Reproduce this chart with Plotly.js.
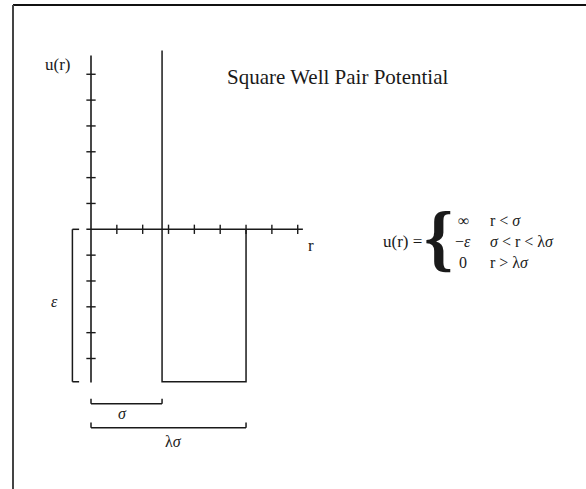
<!DOCTYPE html>
<html>
<head>
<meta charset="utf-8">
<script src="https://cdn.plot.ly/plotly-3.0.1.min.js"></script>
<style>html,body{margin:0;padding:0;background:#fff;}#chart{width:586px;height:489px;}</style>
</head>
<body>
<div id="chart"></div>
<script>
// ---- data (in axis tick units) ----
const xTicks = [1, 2, 3, 4, 5, 6, 7, 8];
const yTicks = [-5, -4, -3, -2, -1, 1, 2, 3, 4, 5, 6];
const sigma = 2.75;          // hard-core diameter
const lambdaSigma = 6.0;     // well range
const epsilon = 5.9;         // well depth
const wallTop = 6.92;        // "infinite" wall drawn up to here
const xAxisEnd = 8.2;
const yAxisTop = 6.73;
const rPotential = [sigma, sigma, lambdaSigma, lambdaSigma];
const uPotential = [wallTop, -epsilon, -epsilon, 0];
const titleText = 'Square Well Pair Potential';
const eqRows = [['∞', 'r &lt; <i>σ</i>'], ['−<i>ε</i>', '<i>σ</i> &lt; r &lt; λ<i>σ</i>'], ['0', 'r &gt; λ<i>σ</i>']];

// ---- geometry helpers ----
const PX = 25.84;            // pixels per unit
const x0px = 91, y0px = 229.3;
const W = 586, H = 489;
const tick = 0.18;
const ink = '#1a1a1a';
const serif = 'Liberation Serif, Times New Roman, serif';

function segs(list) { // list of [[x1,y1],[x2,y2]] -> arrays with null gaps
  const xs = [], ys = [];
  list.forEach(s => { xs.push(s[0][0], s[1][0], null); ys.push(s[0][1], s[1][1], null); });
  return {x: xs, y: ys};
}

const axes = segs([
  [[-tick, 0], [xAxisEnd, 0]],
  [[0, yAxisTop], [0, -epsilon - 0.03]]
]);
const ticks = segs(
  xTicks.map(t => [[t, -tick], [t, tick]]).concat(
  yTicks.map(t => [[-tick, t], [tick, t]]))
);
const brackets = segs([
  // epsilon bracket
  [[-0.46, 0], [-0.72, 0]], [[-0.72, 0], [-0.72, -epsilon]], [[-0.72, -epsilon], [-0.46, -epsilon]],
  // sigma bracket
  [[0, -6.56], [0, -6.75]], [[0, -6.75], [sigma, -6.75]], [[sigma, -6.75], [sigma, -6.56]],
  // lambda sigma bracket
  [[0, -7.48], [0, -7.68]], [[0, -7.68], [lambdaSigma, -7.68]], [[lambdaSigma, -7.68], [lambdaSigma, -7.48]]
]);

const traces = [
  {x: axes.x, y: axes.y, mode: 'lines', line: {color: ink, width: 1.6}, hoverinfo: 'skip'},
  {x: ticks.x, y: ticks.y, mode: 'lines', line: {color: ink, width: 1.4}, hoverinfo: 'skip'},
  {x: rPotential, y: uPotential, mode: 'lines', line: {color: ink, width: 1.5}, hoverinfo: 'skip'},
  {x: brackets.x, y: brackets.y, mode: 'lines', line: {color: ink, width: 1.5}, hoverinfo: 'skip'}
];

function px2x(p) { return (p - x0px) / PX; }
function py2y(p) { return (y0px - p) / PX; }

function ann(text, xpx, ypx, size, xanchor, extra) {
  return Object.assign({
    text: text, x: px2x(xpx), y: py2y(ypx), xref: 'x', yref: 'y',
    showarrow: false, xanchor: xanchor || 'center', yanchor: 'middle',
    font: {family: serif, size: size, color: ink}
  }, extra || {});
}

const annotations = [
  ann(titleText, 337, 77, 21),
  ann('u(r)', 57.5, 64, 17),
  ann('r', 311, 245, 17),
  ann('<i>ε</i>', 54, 301, 16),
  ann('<i>σ</i>', 122.7, 413, 16),
  ann('λ<i>σ</i>', 173, 441, 16),
  ann('u(r) =', 424, 241, 17, 'right'),
  ann('<b>{</b>', 438, 238, 74)
];
const rowY = [220, 241, 262];
eqRows.forEach((row, i) => {
  annotations.push(ann(row[0], 463, rowY[i], 16));
  annotations.push(ann(row[1], 488, rowY[i], 16, 'left'));
});

const layout = {
  width: W, height: H,
  margin: {l: 0, r: 0, t: 0, b: 0},
  paper_bgcolor: '#fff', plot_bgcolor: '#fff',
  showlegend: false,
  xaxis: {range: [px2x(0), px2x(W)], visible: false, fixedrange: true},
  yaxis: {range: [py2y(H), py2y(0)], visible: false, fixedrange: true},
  annotations: annotations,
  shapes: [
    {type: 'line', xref: 'paper', yref: 'paper', x0: 13 / W, x1: 1, y0: 1 - 5 / H, y1: 1 - 5 / H, line: {color: '#111', width: 2}},
    {type: 'line', xref: 'paper', yref: 'paper', x0: 13 / W, x1: 13 / W, y0: 0, y1: 1 - 5 / H, line: {color: '#444', width: 2}}
  ]
};

Plotly.newPlot('chart', traces, layout, {displayModeBar: false, staticPlot: true});
</script>
</body>
</html>
